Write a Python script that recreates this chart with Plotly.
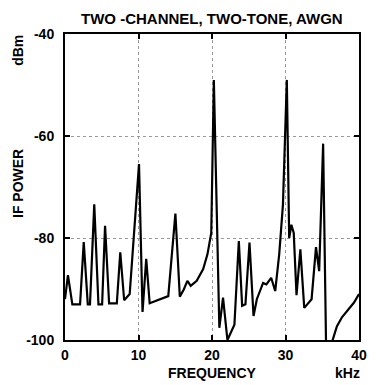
import plotly.graph_objects as go

freq_khz = [0, 0.4, 1.0, 2.05, 2.55, 3.1, 3.4, 3.98, 4.55, 5.05, 5.45, 6.0, 7.05, 7.52,
            8.05, 8.8, 10.07, 10.55, 11.05, 11.52, 14.05, 15.02, 15.62, 16.16, 16.65,
            17.1, 17.92, 18.8, 19.38, 19.9, 20.25, 21.0, 21.5, 22.1, 23.05, 23.65, 24.1,
            24.55, 25.1, 25.65, 26.1, 26.95, 27.4, 28.05, 28.6, 29.15, 29.65, 30.18, 30.5,
            30.8, 31.12, 31.5, 32.02, 32.55, 33.55, 34.15, 34.58, 35.12, 35.55, 36.3,
            36.6, 37.0, 37.7, 38.5, 39.3, 40.0]
power_dbm = [-92, -87.3, -93, -93, -80.8, -93, -93, -73.4, -93, -93, -77.6, -92.8, -92.8,
             -82.8, -92.2, -91, -65.5, -94.5, -84.1, -92.8, -91.4, -75.2, -91.5, -90.1,
             -88.4, -89.4, -88.4, -86.1, -83.2, -79, -49, -97.6, -91.7, -100, -97, -80.6,
             -93.3, -93, -80.9, -95.3, -92, -88.8, -89.1, -87.8, -90.4, -83.1, -73.5, -49,
             -80, -77.4, -79, -91.2, -82.2, -93.7, -92, -81.8, -86.5, -61.5, -104, -100.5,
             -98.8, -97.3, -95.5, -94, -92.7, -91]

x_ticks = [0, 10, 20, 30, 40]
x_tick_labels = ["0", "10", "20", "30", "40"]
y_ticks = [-100, -80, -60, -40]
y_tick_labels = ["-100", "-80", "-60", "-40"]

title_text = "TWO -CHANNEL, TWO-TONE, AWGN"
x_title = "FREQUENCY"
x_unit = "kHz"
y_title = "IF POWER"
y_unit = "dBm"

FONT = "Liberation Sans, Arial, sans-serif"

fig = go.Figure()
fig.add_trace(go.Scatter(x=freq_khz, y=power_dbm, mode="lines",
                         line=dict(color="black", width=2.2), showlegend=False))

axis_common = dict(showline=True, linecolor="black", linewidth=2, mirror="ticks",
                   ticks="inside", ticklen=5, tickwidth=1.5, tickcolor="black",
                   showgrid=True, gridcolor="#999999", gridwidth=1, griddash="dot",
                   zeroline=False,
                   tickfont=dict(family=FONT, size=14, color="black", weight="bold"))

fig.update_xaxes(range=[0, 40], tickvals=x_ticks, ticktext=x_tick_labels,
                 ticklabelstandoff=1, **axis_common)
fig.update_yaxes(range=[-100, -40], tickvals=y_ticks, ticktext=y_tick_labels,
                 ticklabelstandoff=6, **axis_common)

ann_font = dict(family=FONT, size=14, color="black", weight="bold")
fig.add_annotation(text=title_text, xref="paper", yref="paper", x=0.5, y=1.0, yshift=16,
                   xanchor="center", yanchor="middle", showarrow=False,
                   font=dict(family=FONT, size=15, color="black", weight="bold"))
fig.add_annotation(text=x_title, xref="paper", yref="paper", x=0.5, y=0, yshift=-33,
                   xanchor="center", yanchor="middle", showarrow=False, font=ann_font)
fig.add_annotation(text=x_unit, xref="paper", yref="paper", x=0.96, y=0, yshift=-33,
                   xanchor="center", yanchor="middle", showarrow=False, font=ann_font)
fig.add_annotation(text=y_title, xref="paper", yref="paper", x=0, xshift=-47, y=0.5, yshift=3,
                   xanchor="center", yanchor="middle", showarrow=False, textangle=-90,
                   font=ann_font)
fig.add_annotation(text=y_unit, xref="paper", yref="paper", x=0, xshift=-47, y=0.945,
                   xanchor="center", yanchor="middle", showarrow=False, textangle=-90,
                   font=ann_font)

fig.update_layout(width=376, height=385, margin=dict(l=65, r=9, t=34, b=45),
                  paper_bgcolor="white", plot_bgcolor="white")

fig.write_html("out.html", config={"displayModeBar": False},
               post_script="document.body.style.margin='0';document.body.style.overflow='hidden';")
